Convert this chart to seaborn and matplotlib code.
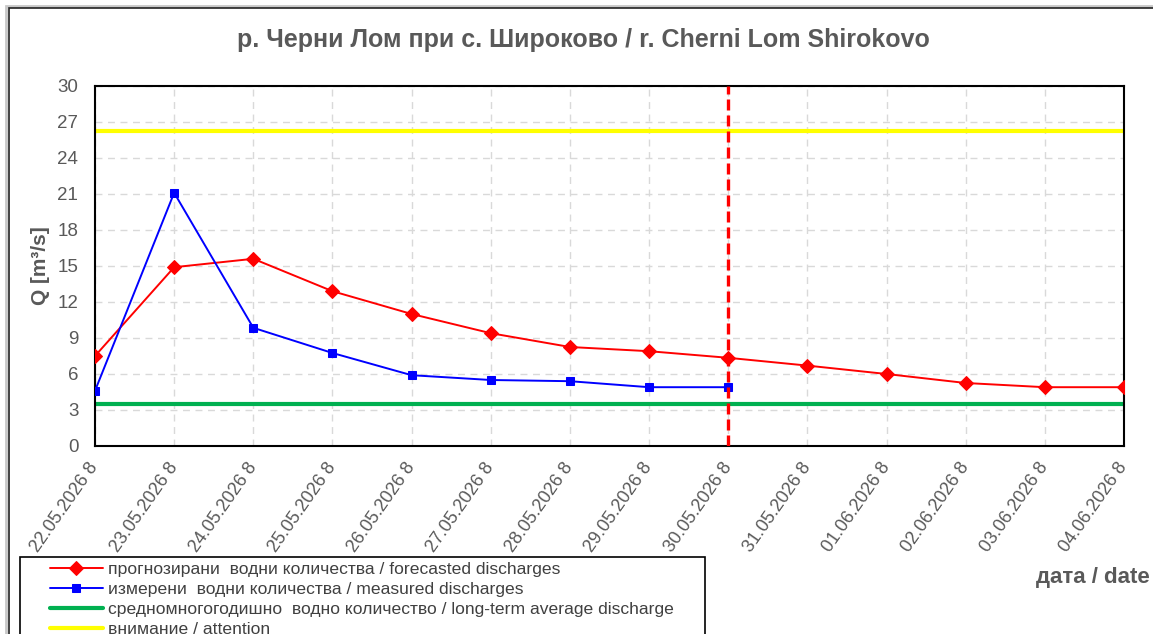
import pandas as pd
import matplotlib.pyplot as plt
from matplotlib.patches import Rectangle
import seaborn as sns

# ---- data ----
date_labels = ["22.05.2026 8", "23.05.2026 8", "24.05.2026 8", "25.05.2026 8",
               "26.05.2026 8", "27.05.2026 8", "28.05.2026 8", "29.05.2026 8",
               "30.05.2026 8", "31.05.2026 8", "01.06.2026 8", "02.06.2026 8",
               "03.06.2026 8", "04.06.2026 8"]
forecast = [7.5, 14.9, 15.6, 12.9, 11.0, 9.4, 8.25, 7.9, 7.35, 6.7, 6.0, 5.25, 4.9, 4.9]
measured = [4.6, 21.1, 9.85, 7.75, 5.9, 5.5, 5.4, 4.9, 4.9]
long_term_avg = 3.5
attention = 26.25
forecast_start = "30.05.2026 8"

dates = pd.to_datetime(date_labels, format="%d.%m.%Y %H")
df_fc = pd.DataFrame({"date": dates, "Q": forecast})
df_ms = pd.DataFrame({"date": dates[:len(measured)], "Q": measured})

sns.set_style("white")
plt.rcParams["font.family"] = ["Liberation Sans", "DejaVu Sans"]

W, H = 1153, 634
fig = plt.figure(figsize=(W / 100, H / 100), dpi=100)
ax = fig.add_axes([95 / W, 1 - 446 / H, (1124 - 95) / W, (446 - 86) / H])

gray_txt = "#595959"

ax.axhline(attention, color="#ffff00", lw=3, zorder=2, label="внимание / attention")
ax.axhline(long_term_avg, color="#00b050", lw=3, zorder=2,
           label="средномногогодишно  водно количество / long-term average discharge")
sns.lineplot(data=df_fc, x="date", y="Q", ax=ax, color="red", lw=1.4, marker="D",
             markersize=7, markeredgecolor="red", zorder=4,
             label="прогнозирани  водни количества / forecasted discharges")
sns.lineplot(data=df_ms, x="date", y="Q", ax=ax, color="blue", lw=1.4, marker="s",
             markersize=6, markeredgecolor="blue", zorder=5,
             label="измерени  водни количества / measured discharges")
ax.axvline(pd.to_datetime(forecast_start, format="%d.%m.%Y %H"), color="red", lw=2.4,
           ls=(0, (3.3, 1.5)), zorder=6)

ax.set_xlim(dates[0], dates[-1])
ax.set_ylim(0, 30)
ax.set_yticks(range(0, 31, 3))
ax.set_xticks(dates)
ax.set_xticklabels(date_labels)
plt.setp(ax.get_xticklabels(), rotation=55, ha="right", va="center",
         rotation_mode="anchor")

ax.grid(True, color="#d9d9d9", ls=(0, (5, 4)), lw=1)
ax.set_axisbelow(True)
for s in ax.spines.values():
    s.set_color("black")
    s.set_linewidth(1.5)
ax.tick_params(axis="both", direction="out", length=5, width=1.2, color="black",
               labelsize=13.5, labelcolor=gray_txt)
ax.tick_params(axis="y", pad=7)
ax.tick_params(axis="x", pad=8, labelsize=13)
ax.set_xlabel("")
ax.set_ylabel("")

fig.text(583 / W, 1 - 40 / H, "р. Черни Лом при с. Широково / r. Cherni Lom Shirokovo",
         ha="center", va="center", fontsize=18, fontweight="bold", color=gray_txt)
fig.text(40 / W, 1 - 266 / H, "Q [m³/s]", rotation=90, ha="center", va="center",
         fontsize=15, fontweight="bold", color=gray_txt)
fig.text(1150 / W, 1 - 578 / H, "дата / date", ha="right", va="center",
         fontsize=16, fontweight="bold", color=gray_txt)

# legend order as in the reference
handles, labels = ax.get_legend_handles_labels()
order = [2, 3, 1, 0]
if ax.legend_:
    ax.legend_.remove()
leg = fig.legend([handles[i] for i in order], [labels[i] for i in order],
                 loc="upper left", bbox_to_anchor=(50 / W, 1 - 562 / H),
                 frameon=False, fontsize=12.6, handlelength=3.0, handletextpad=0.3,
                 labelspacing=0.26, borderpad=0, borderaxespad=0)
for t in leg.get_texts():
    t.set_color("#404040")

# legend box (runs off the bottom of the picture, as in the reference)
fig.patches.append(Rectangle((20 / W, -0.2), (705 - 20) / W, 0.2 + 1 - 557 / H,
                             transform=fig.transFigure, fill=False,
                             edgecolor="black", lw=1.2))

# outer frame
fig.patches.append(Rectangle((6 / W, -0.1), 2, 1.1 - 6 / H, transform=fig.transFigure,
                             fill=False, edgecolor="#c8c8c8", lw=2))
fig.patches.append(Rectangle((8.5 / W, -0.1), 2, 1.1 - 8.5 / H, transform=fig.transFigure,
                             fill=False, edgecolor="#222222", lw=1.2))

fig.savefig("out.png", dpi=100)
plt.close(fig)
